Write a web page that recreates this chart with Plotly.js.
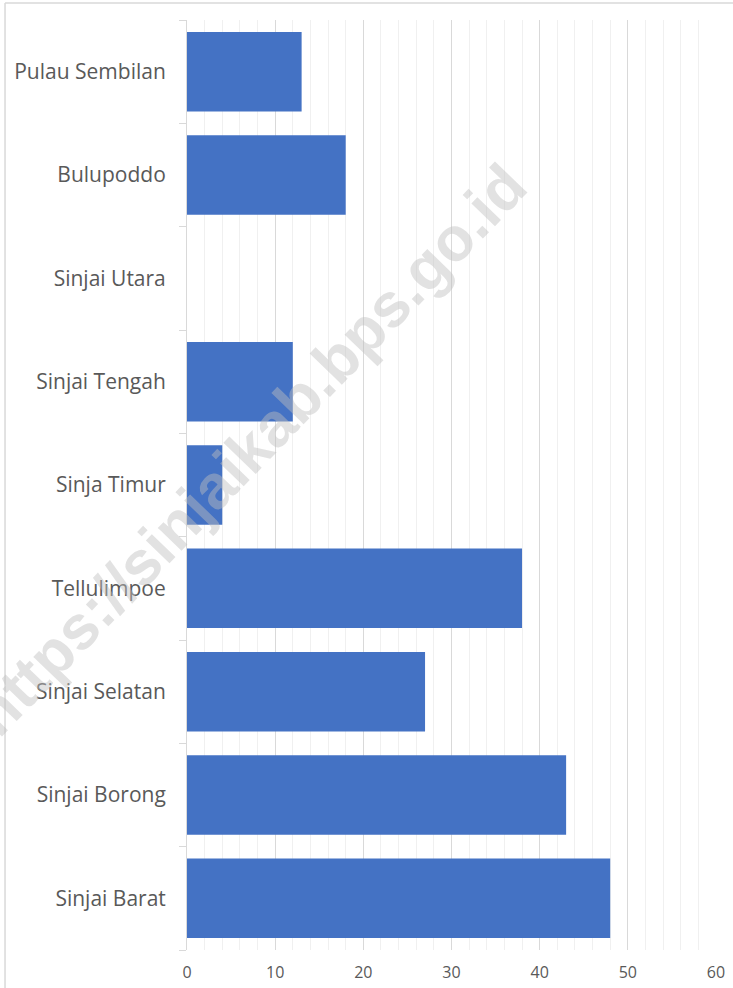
<!DOCTYPE html>
<html>
<head>
<meta charset="utf-8">
<script src="https://cdn.plot.ly/plotly-3.0.1.min.js"></script>
<style>html,body{margin:0;padding:0;background:#fff;}#chart{width:733px;height:988px;}</style>
</head>
<body>
<div id="chart"></div>
<script>
const categories = ["Sinjai Barat","Sinjai Borong","Sinjai Selatan","Tellulimpoe","Sinja Timur","Sinjai Tengah","Sinjai Utara","Bulupoddo","Pulau Sembilan"];
const values = [48, 43, 27, 38, 4, 12, 0, 18, 13];
const xTicks = [0, 10, 20, 30, 40, 50, 60];

const trace = {
  type: 'bar',
  orientation: 'h',
  y: categories,
  x: values,
  marker: {color: '#4472c4', line: {color: '#4472c4', width: 0}},
  width: 0.77,
  hoverinfo: 'none'
};

const layout = {
  width: 733, height: 988,
  margin: {l: 187, r: 17, t: 20, b: 38},
  paper_bgcolor: '#ffffff', plot_bgcolor: '#ffffff',
  showlegend: false,
  font: {family: 'Open Sans, Noto Sans, sans-serif', color: '#595959'},
  xaxis: {
    range: [0, 60],
    tickvals: xTicks,
    ticktext: xTicks.map(String),
    showgrid: true, gridcolor: '#d9d9d9', gridwidth: 1,
    minor: {dtick: 2, showgrid: true, gridcolor: '#f0f0f0', gridwidth: 1, ticks: ''},
    zeroline: false, showline: false, ticks: '',
    ticklabelstandoff: 11,
    tickfont: {size: 16, color: '#595959'},
    fixedrange: true
  },
  yaxis: {
    type: 'category',
    range: [-0.5, 8.5],
    showgrid: false, zeroline: false,
    showline: true, linecolor: '#d9d9d9', linewidth: 1,
    ticks: 'outside', tickson: 'boundaries', ticklen: 7, tickcolor: '#d9d9d9',
    ticklabelstandoff: 16,
    tickfont: {size: 21, color: '#595959'},
    fixedrange: true
  },
  shapes: [
    {type: 'line', xref: 'paper', yref: 'paper', x0: -0.344, x1: 1.04, y0: 1.0183, y1: 1.0183, line: {color: '#d9d9d9', width: 1.5}},
    {type: 'line', xref: 'paper', yref: 'paper', x0: -0.344, x1: -0.344, y0: 1.0183, y1: -0.045, line: {color: '#d9d9d9', width: 1.5}}
  ],
  annotations: [
    {text: '<b>https://sinjaikab.bps.go.id</b>', xref: 'paper', yref: 'paper', x: 0.118, y: 0.538,
     xanchor: 'center', yanchor: 'middle',
     showarrow: false, textangle: -46, font: {family: 'Liberation Sans, Arial, sans-serif', size: 62, color: 'rgba(190,190,190,0.45)'}}
  ]
};

Plotly.newPlot('chart', [trace], layout, {displayModeBar: false, staticPlot: true});
</script>
</body>
</html>
